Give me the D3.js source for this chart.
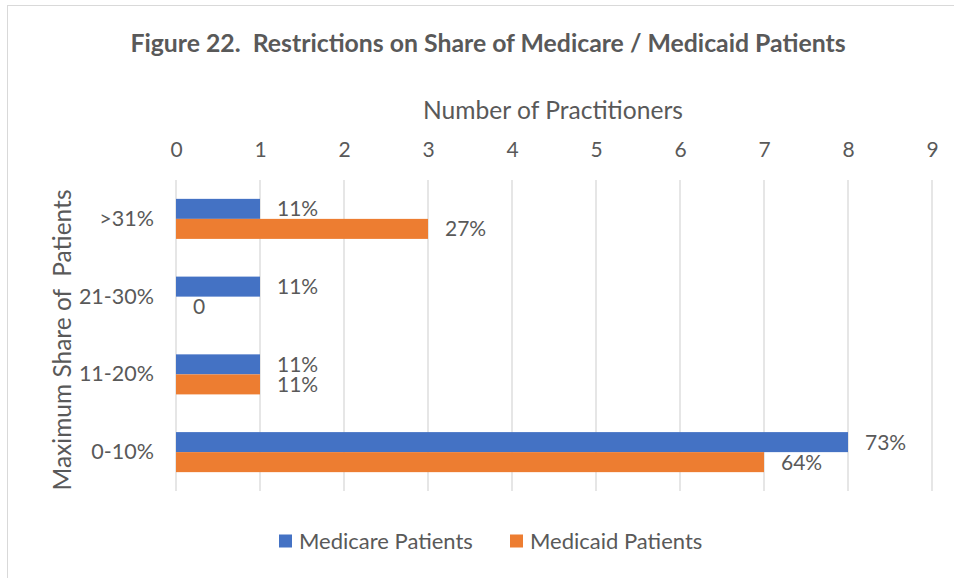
<!DOCTYPE html>
<html>
<head>
<meta charset="utf-8">
<script src="https://cdn.jsdelivr.net/npm/d3@7"></script>
<style>
  body { margin: 0; background: #fff; }
  text { font-family: Lato, "Open Sans", sans-serif; fill: #595959; }
</style>
</head>
<body>
<svg id="chart"></svg>
<script>
const categories = [">31%", "21-30%", "11-20%", "0-10%"]
const seriesNames = ["Medicare Patients", "Medicaid Patients"]
const medicare = [1, 1, 1, 8]
const medicaid = [3, 0, 1, 7]
const medicareLabels = ["11%", "11%", "11%", "73%"]
const medicaidLabels = ["27%", "0", "11%", "64%"]
const xTicks = [0, 1, 2, 3, 4, 5, 6, 7, 8, 9]
const colors = ["#4472c4", "#ed7d31"]

const width = 954
const height = 578
const margin = {top: 180, right: 22, bottom: 87, left: 176}

const svg = d3.select('#chart')
  .attr('width', width)
  .attr('height', height)

// outer frame (only top and left edges visible in the picture)
svg.append('rect')
  .attr('x', 7.5).attr('y', 5.5)
  .attr('width', width).attr('height', height)
  .attr('fill', 'none')
  .attr('stroke', '#d9d9d9')

const x = d3.scaleLinear()
  .domain([0, 9])
  .range([margin.left, width - margin.right])

const y = d3.scaleBand()
  .domain(categories)
  .range([margin.top, height - margin.bottom])
  .paddingInner(0.485)
  .paddingOuter(0.2425)

const sub = d3.scaleBand()
  .domain(seriesNames)
  .range([0, y.bandwidth()])

// gridlines
svg.append('g')
  .selectAll('line')
  .data(xTicks)
  .join('line')
    .attr('x1', d => x(d)).attr('x2', d => x(d))
    .attr('y1', margin.top).attr('y2', height - margin.bottom)
    .attr('stroke', '#d9d9d9')
    .attr('stroke-width', 1.3)

// top axis labels
const xAxis = svg.append('g')
  .attr('transform', `translate(0,${margin.top - 23})`)
  .call(d3.axisTop(x).tickValues(xTicks).tickSize(0).tickPadding(0))
xAxis.select('.domain').remove()
xAxis.selectAll('text')
  .attr('font-size', 21)
  .attr('fill', '#595959')
  .style('font-family', 'Lato, "Open Sans", sans-serif')

// left axis labels
const yAxis = svg.append('g')
  .attr('transform', `translate(${margin.left - 22},0)`)
  .call(d3.axisLeft(y).tickSize(0).tickPadding(0))
yAxis.select('.domain').remove()
yAxis.selectAll('text')
  .attr('font-size', 21.5)
  .attr('fill', '#595959')
  .style('font-family', 'Lato, "Open Sans", sans-serif')

const rows = categories.map((c, i) => ({
  cat: c,
  values: [
    {name: seriesNames[0], value: medicare[i], label: medicareLabels[i], color: colors[0]},
    {name: seriesNames[1], value: medicaid[i], label: medicaidLabels[i], color: colors[1]}
  ]
}))

const group = svg.append('g')
  .selectAll('g')
  .data(rows)
  .join('g')
    .attr('transform', d => `translate(0,${y(d.cat)})`)

group.selectAll('rect')
  .data(d => d.values)
  .join('rect')
    .attr('x', x(0))
    .attr('y', d => sub(d.name))
    .attr('width', d => x(d.value) - x(0))
    .attr('height', sub.bandwidth())
    .attr('fill', d => d.color)

group.selectAll('text')
  .data(d => d.values)
  .join('text')
    .attr('x', d => x(d.value) + 17)
    .attr('y', d => sub(d.name) + sub.bandwidth() / 2)
    .attr('dy', '0.36em')
    .attr('font-size', 21)
    .text(d => d.label)

// titles
svg.append('text')
  .attr('x', 488).attr('y', 43)
  .attr('dy', '0.35em')
  .attr('text-anchor', 'middle')
  .attr('font-size', 24.8)
  .attr('font-weight', 'bold')
  .style('white-space', 'pre')
  .text('Figure 22.  Restrictions on Share of Medicare / Medicaid Patients')

svg.append('text')
  .attr('x', 553).attr('y', 110)
  .attr('dy', '0.35em')
  .attr('text-anchor', 'middle')
  .attr('font-size', 24.6)
  .text('Number of Practitioners')

svg.append('text')
  .attr('transform', 'translate(62,340) rotate(-90)')
  .attr('dy', '0.35em')
  .attr('text-anchor', 'middle')
  .attr('font-size', 24.5)
  .style('white-space', 'pre')
  .text('Maximum Share of  Patients')

// legend
const legend = svg.append('g')
  .selectAll('g')
  .data(seriesNames)
  .join('g')
    .attr('transform', (d, i) => `translate(${[279, 510][i]},541)`)

legend.append('rect')
  .attr('x', 0).attr('y', -6.5)
  .attr('width', 13).attr('height', 13)
  .attr('fill', (d, i) => colors[i])

legend.append('text')
  .attr('x', 20)
  .attr('dy', '0.35em')
  .attr('font-size', 22)
  .text(d => d)
</script>
</body>
</html>
